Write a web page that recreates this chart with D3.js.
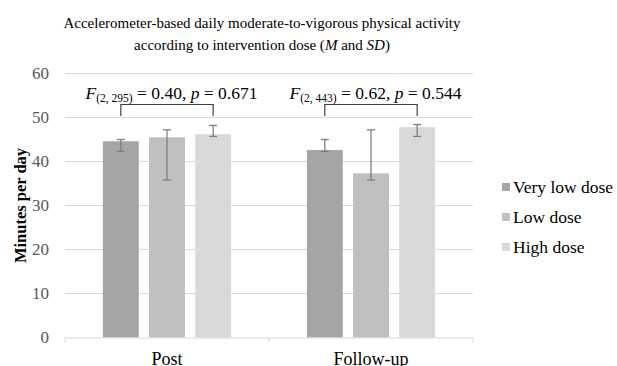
<!DOCTYPE html>
<html><head><meta charset="utf-8">
<script src="https://cdn.jsdelivr.net/npm/d3@7"></script>
<style>body{margin:0;background:#fff}svg{display:block}</style>
</head><body><svg id="c" width="617" height="366"></svg>
<script>
const categories = ["Post", "Follow-up"];
const seriesNames = ["Very low dose", "Low dose", "High dose"];
const seriesColors = ["#a5a5a5", "#bfbfbf", "#d9d9d9"];
const means = [[44.6, 45.5, 46.2], [42.6, 37.3, 47.8]];
const errHigh = [[45.0, 47.2, 48.2], [45.0, 47.2, 48.4]];
const errLow = [[42.3, 35.8, 45.7], [42.3, 35.8, 45.7]];
const yTicks = [0, 10, 20, 30, 40, 50, 60];
const stats = [{df: "(2, 295)", F: "0.40", p: "0.671"}, {df: "(2, 443)", F: "0.62", p: "0.544"}];

const FONT = "'Liberation Serif', 'Times New Roman', serif";
const svg = d3.select("#c");
const L = 65, R = 473, T = 73.5, B = 337.5;
const x0 = d3.scaleBand().domain(categories).range([L, R]).paddingInner(0).paddingOuter(0);
const x1 = d3.scaleBand().domain(seriesNames).range([0, x0.bandwidth()]).paddingInner(0.222).paddingOuter(0.82);
const y = d3.scaleLinear().domain([0, 60]).range([B, T]);

// gridlines
svg.append("g").selectAll("line").data(yTicks.filter(d => d > 0)).join("line")
  .attr("x1", L).attr("x2", R).attr("y1", d => y(d)).attr("y2", d => y(d))
  .attr("stroke", "#d9d9d9").attr("stroke-width", 1);

// y tick labels
svg.append("g").selectAll("text").data(yTicks).join("text")
  .attr("x", 49).attr("y", d => y(d)).attr("dy", "0.35em").attr("text-anchor", "end")
  .style("font-family", FONT).attr("font-size", 17).attr("fill", "#595959").text(d => d);

// bars
const groups = svg.append("g").selectAll("g").data(categories).join("g")
  .attr("transform", c => `translate(${x0(c)},0)`);
groups.selectAll("rect").data((c, i) => seriesNames.map((s, j) => ({s, j, v: means[i][j]}))).join("rect")
  .attr("x", d => x1(d.s)).attr("width", x1.bandwidth())
  .attr("y", d => y(d.v)).attr("height", d => y(0) - y(d.v))
  .attr("fill", d => seriesColors[d.j]);

// error bars
const eb = groups.selectAll("g.eb").data((c, i) => seriesNames.map((s, j) => ({s, hi: errHigh[i][j], lo: errLow[i][j]}))).join("g").attr("class", "eb")
  .attr("stroke", "#7f7f7f").attr("stroke-width", 1.3);
eb.append("line").attr("x1", d => x1(d.s) + x1.bandwidth() / 2).attr("x2", d => x1(d.s) + x1.bandwidth() / 2)
  .attr("y1", d => y(d.hi)).attr("y2", d => y(d.lo));
eb.append("line").attr("x1", d => x1(d.s) + x1.bandwidth() / 2 - 4).attr("x2", d => x1(d.s) + x1.bandwidth() / 2 + 4)
  .attr("y1", d => y(d.hi)).attr("y2", d => y(d.hi));
eb.append("line").attr("x1", d => x1(d.s) + x1.bandwidth() / 2 - 4).attr("x2", d => x1(d.s) + x1.bandwidth() / 2 + 4)
  .attr("y1", d => y(d.lo)).attr("y2", d => y(d.lo));

// x axis
const xa = svg.append("g").attr("transform", `translate(0,${B})`)
  .call(d3.axisBottom(x0).tickSize(0).tickPadding(0));
xa.attr("font-family", null);
xa.select(".domain").attr("stroke", "#d9d9d9");
xa.selectAll("text").attr("font-size", 18).attr("fill", "#000").style("font-family", FONT).attr("y", 27).attr("dy", null);
svg.append("g").selectAll("line").data([L, x0(categories[1]), R]).join("line")
  .attr("x1", d => d).attr("x2", d => d).attr("y1", B).attr("y2", B + 5).attr("stroke", "#d9d9d9");

// brackets and stats
categories.forEach((c, i) => {
  const xa_ = x0(c) + x1(seriesNames[0]) + x1.bandwidth() / 2;
  const xb_ = x0(c) + x1(seriesNames[2]) + x1.bandwidth() / 2;
  svg.append("path").attr("d", `M${xa_},116 V104.5 H${xb_} V116`).attr("fill", "none").attr("stroke", "#404040").attr("stroke-width", 1.2);
  const t = svg.append("text").attr("x", (xa_ + xb_) / 2 + 4.5).attr("y", 99).attr("text-anchor", "middle")
    .style("font-family", FONT).attr("font-size", 17.5).attr("fill", "#000");
  t.append("tspan").attr("font-style", "italic").text("F");
  t.append("tspan").attr("font-size", 11.5).attr("dy", 3).text(stats[i].df);
  t.append("tspan").attr("dy", -3).text(" = " + stats[i].F + ", ");
  t.append("tspan").attr("font-style", "italic").text("p");
  t.append("tspan").text(" = " + stats[i].p);
});

// title
const title = svg.append("text").attr("text-anchor", "middle").style("font-family", FONT).attr("font-size", 15).attr("fill", "#000");
title.append("tspan").attr("x", 262).attr("y", 28).text("Accelerometer-based daily moderate-to-vigorous physical activity");
const l2 = title.append("tspan").attr("x", 262).attr("y", 50);
l2.append("tspan").text("according to intervention dose (");
l2.append("tspan").attr("font-style", "italic").text("M");
l2.append("tspan").text(" and ");
l2.append("tspan").attr("font-style", "italic").text("SD");
l2.append("tspan").text(")");

// y label
svg.append("text").attr("transform", `translate(26,${(T + B) / 2}) rotate(-90)`).attr("text-anchor", "middle")
  .style("font-family", FONT).attr("font-size", 16.5).attr("font-weight", "bold").attr("fill", "#000").text("Minutes per day");

// legend
const lg = svg.append("g").selectAll("g").data(seriesNames).join("g")
  .attr("transform", (d, i) => `translate(502,${187 + i * 30})`);
lg.append("rect").attr("x", 0).attr("y", -4).attr("width", 8).attr("height", 8).attr("fill", (d, i) => seriesColors[i]);
lg.append("text").attr("x", 11).attr("y", 0).attr("dy", "0.33em").style("font-family", FONT).attr("font-size", 17.5).attr("fill", "#000").text(d => d);
</script></body></html>
